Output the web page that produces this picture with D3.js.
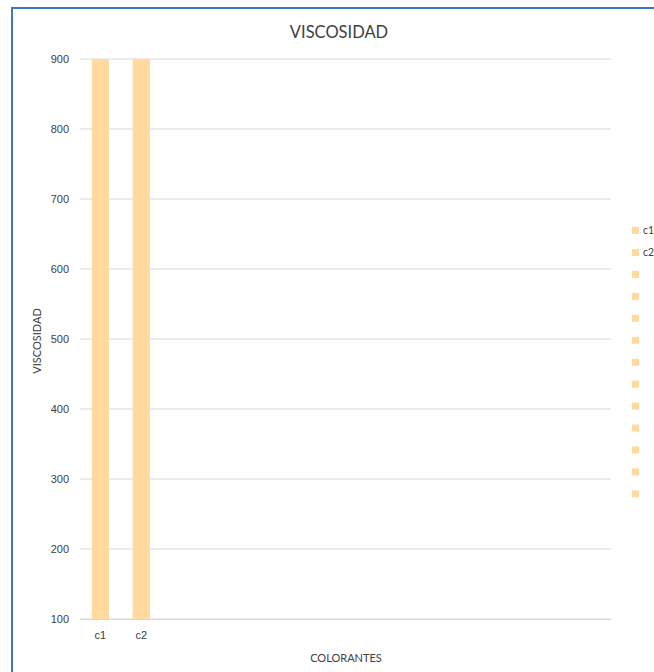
<!DOCTYPE html>
<html>
<head>
<meta charset="utf-8">
<script src="https://cdn.jsdelivr.net/npm/d3@7"></script>
<style>
  body { margin: 0; background: #fff; }
  svg { display: block; font-family: Lato, "Open Sans", sans-serif; }
</style>
</head>
<body>
<script>
// Viscosity per colorant; the remaining categories hold no data
const categories = ["c1", "c2", "", "", "", "", "", "", "", "", "", "", ""];
const values = [900, 900, null, null, null, null, null, null, null, null, null, null, null];
const yTicks = [100, 200, 300, 400, 500, 600, 700, 800, 900];
const title = "VISCOSIDAD";
const xTitle = "COLORANTES";
const yTitle = "VISCOSIDAD";

const W = 654, H = 672;
const barColor = "#FFD99D";
const textColor = "#404040";

const svg = d3.select("body").append("svg").attr("width", W).attr("height", H);

// chart frame
svg.append("rect")
  .attr("x", 12).attr("y", 8).attr("width", W + 20).attr("height", H + 20)
  .attr("fill", "#fff").attr("stroke", "#3F78BC").attr("stroke-width", 2);

const plot = { left: 80, right: 611, top: 59, bottom: 619 };

const x = d3.scaleBand().domain(d3.range(categories.length))
  .range([plot.left, plot.right]).paddingInner(0.58).paddingOuter(0.29);
const y = d3.scaleLinear().domain([100, 900]).range([plot.bottom, plot.top]);

// gridlines
svg.append("g").selectAll("line").data(yTicks).join("line")
  .attr("x1", plot.left).attr("x2", plot.right)
  .attr("y1", d => y(d)).attr("y2", d => y(d))
  .attr("stroke", "#D9D9D9").attr("stroke-width", 1);

// y axis labels
const yAxis = svg.append("g").attr("transform", `translate(${plot.left},0)`)
  .call(d3.axisLeft(y).tickValues(yTicks).tickSize(0).tickPadding(11));
yAxis.select(".domain").remove();
yAxis.selectAll("text").attr("fill", textColor).style("font-size", "11px");

// bars
svg.append("g").selectAll("rect").data(values.map((v, i) => ({ v, i })).filter(d => d.v != null))
  .join("rect")
  .attr("x", d => x(d.i)).attr("width", x.bandwidth())
  .attr("y", d => y(d.v)).attr("height", d => y(100) - y(d.v))
  .attr("fill", barColor);

// category labels
const xAxis = svg.append("g").attr("transform", `translate(0,${plot.bottom})`)
  .call(d3.axisBottom(x).tickFormat(i => categories[i]).tickSize(0).tickPadding(12));
xAxis.select(".domain").attr("stroke", "#D9D9D9");
xAxis.selectAll("text").attr("fill", textColor).style("font-size", "11px");

// titles
svg.append("text").attr("x", 339).attr("y", 38).attr("text-anchor", "middle")
  .attr("fill", textColor).style("font-size", "16.5px").text(title);
svg.append("text").attr("x", 346).attr("y", 662).attr("text-anchor", "middle")
  .attr("fill", textColor).style("font-size", "11px").text(xTitle);
svg.append("text").attr("transform", "translate(41,341) rotate(-90)").attr("text-anchor", "middle")
  .attr("fill", textColor).style("font-size", "11px").text(yTitle);

// legend
const legend = svg.append("g").selectAll("g").data(categories).join("g")
  .attr("transform", (d, i) => `translate(632,${227 + i * 21.95})`);
legend.append("rect").attr("width", 7).attr("height", 7).attr("fill", barColor);
legend.append("text").attr("x", 11).attr("y", 7).attr("fill", textColor)
  .style("font-size", "10.5px").text(d => d);
</script>
</body>
</html>
